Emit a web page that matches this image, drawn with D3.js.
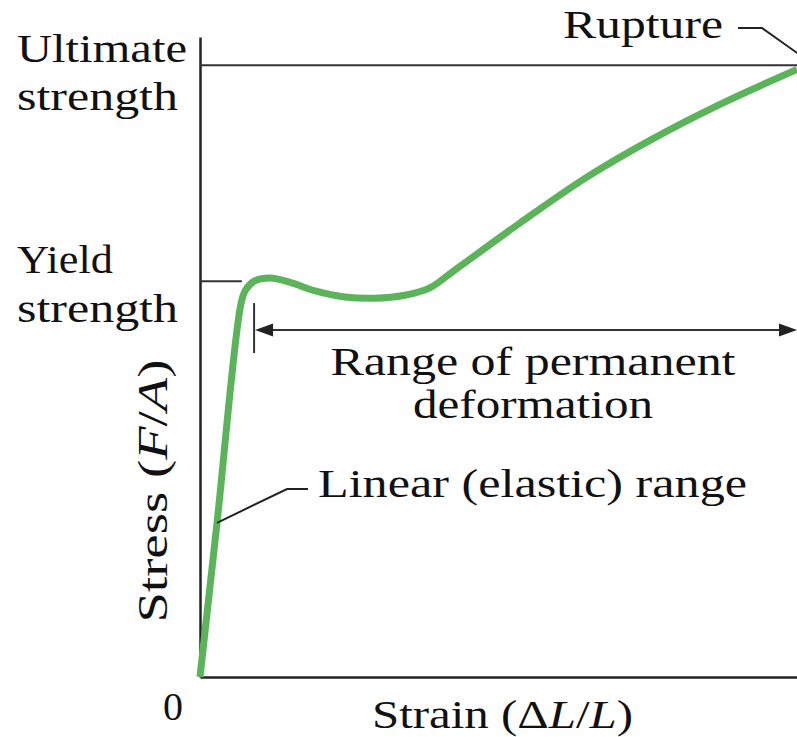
<!DOCTYPE html>
<html>
<head>
	<meta charset="utf-8">
	<title>Stress-strain curve</title>
	<script src="https://d3js.org/d3.v7.min.js"></script>
	<style>
		body { margin: 0; background: #fff; }
	</style>
</head>
<body>

<script>

// strain (fraction of the plotted range) and stress (fraction of ultimate strength)
var strain = [0, 0.0285, 0.068, 0.076, 0.091, 0.117, 0.151, 0.193, 0.243, 0.293, 0.343, 0.385, 0.424, 0.536, 0.648, 0.759, 0.871, 1.0]
var stress = [0, 0.252, 0.607, 0.632, 0.647, 0.652, 0.645, 0.631, 0.621, 0.619, 0.624, 0.636, 0.663, 0.742, 0.817, 0.880, 0.936, 0.993]

var yieldStress = 0.647
var yieldStrain = 0.07
var ultimateStress = 1.0
var plasticStart = 0.0906   // where the permanent-deformation arrow starts
var arrowStress = 0.567
var elasticPick = 1         // index of the point the "Linear" leader touches

var width = 797
var height = 737
var serif = "'Liberation Serif', 'Times New Roman', Times, serif"

var svg = d3.select('body').append('svg')
	.attr('width', width)
	.attr('height', height)
	.attr('font-family', serif)

var x = d3.scaleLinear().domain([0, 1]).range([200, 797])
var y = d3.scaleLinear().domain([0, 1.046]).range([677, 37])

// axes, just the lines
svg.append('g')
	.attr('transform', 'translate(0,' + y(0) + ')')
	.call(d3.axisBottom(x).ticks(0).tickSizeOuter(0))
	.call(function(g) { g.select('.domain').attr('stroke', '#222').attr('stroke-width', 2.5) })

svg.append('g')
	.attr('transform', 'translate(' + x(0) + ',0)')
	.call(d3.axisLeft(y).ticks(0).tickSizeOuter(0))
	.call(function(g) { g.select('.domain').attr('stroke', '#222').attr('stroke-width', 2.5) })

// ultimate + yield reference lines
svg.append('line')
	.attr('x1', x(0)).attr('x2', x(1))
	.attr('y1', y(ultimateStress)).attr('y2', y(ultimateStress))
	.attr('stroke', '#333').attr('stroke-width', 2)

svg.append('line')
	.attr('x1', x(0)).attr('x2', x(yieldStrain))
	.attr('y1', y(yieldStress)).attr('y2', y(yieldStress))
	.attr('stroke', '#333').attr('stroke-width', 2)

// range of permanent deformation arrow
var ay = y(arrowStress)
var ax1 = x(plasticStart), ax2 = x(1)
svg.append('line')
	.attr('x1', ax1).attr('x2', ax1)
	.attr('y1', ay - 27).attr('y2', ay + 23)
	.attr('stroke', '#333').attr('stroke-width', 2)
svg.append('line')
	.attr('x1', ax1 + 10).attr('x2', ax2 - 10)
	.attr('y1', ay).attr('y2', ay)
	.attr('stroke', '#333').attr('stroke-width', 2)
svg.append('path')
	.attr('d', 'M' + (ax1 + 1) + ',' + ay + 'l18,-6.5l0,13z')
	.attr('fill', '#222')
svg.append('path')
	.attr('d', 'M' + ax2 + ',' + ay + 'l-18,-6.5l0,13z')
	.attr('fill', '#222')

// the curve
var pts = strain.map(function(d, i) { return [d, stress[i]] })
var line = d3.line()
	.x(function(d) { return x(d[0]) })
	.y(function(d) { return y(d[1]) })
	.curve(d3.curveCatmullRom.alpha(0.5))

svg.append('path')
	.datum(pts)
	.attr('d', line)
	.attr('fill', 'none')
	.attr('stroke', '#5cb45a')
	.attr('stroke-width', 7)
	.attr('stroke-linejoin', 'round')

// leaders
var lp = [x(strain[elasticPick]), y(stress[elasticPick])]
svg.append('polyline')
	.attr('points', [lp, [287, 489], [308, 489]].join(' '))
	.attr('fill', 'none').attr('stroke', '#222').attr('stroke-width', 2)

svg.append('polyline')
	.attr('points', [[738, 28], [762, 28], [800, 55]].join(' '))
	.attr('fill', 'none').attr('stroke', '#222').attr('stroke-width', 2)

// labels
var fs = 40
function label(txt, px, py, len, anchor) {
	var t = svg.append('text')
		.attr('x', px).attr('y', py)
		.attr('font-size', fs)
		.attr('fill', '#111')
		.attr('text-anchor', anchor || 'start')
		.text(txt)
	if (len) t.attr('textLength', len).attr('lengthAdjust', 'spacingAndGlyphs')
	return t
}

label('Ultimate', 17, 62, 170)
label('strength', 17, 110, 161)
label('Yield', 17, 273, 96)
label('strength', 17, 322, 161)
label('Rupture', 563, 38, 160)
label('Range of permanent', 533, 375, 405, 'middle')
label('deformation', 533, 418, 240, 'middle')
label('Linear (elastic) range', 318, 497, 429)
label('0', 163, 720)

var xl = svg.append('text')
	.attr('x', 372).attr('y', 728)
	.attr('font-size', fs).attr('fill', '#111')
	.attr('textLength', 261).attr('lengthAdjust', 'spacingAndGlyphs')
xl.append('tspan').text('Strain (\u0394')
xl.append('tspan').attr('font-style', 'italic').text('L')
xl.append('tspan').text('/')
xl.append('tspan').attr('font-style', 'italic').text('L')
xl.append('tspan').text(')')

var yl = svg.append('text')
	.attr('transform', 'translate(167,491) rotate(-90)')
	.attr('text-anchor', 'middle')
	.attr('font-size', 42).attr('fill', '#111')
	.attr('textLength', 263).attr('lengthAdjust', 'spacingAndGlyphs')
yl.append('tspan').text('Stress (')
yl.append('tspan').attr('font-style', 'italic').text('F')
yl.append('tspan').text('/')
yl.append('tspan').attr('font-style', 'italic').text('A')
yl.append('tspan').text(')')

</script>

</body>
</html>
